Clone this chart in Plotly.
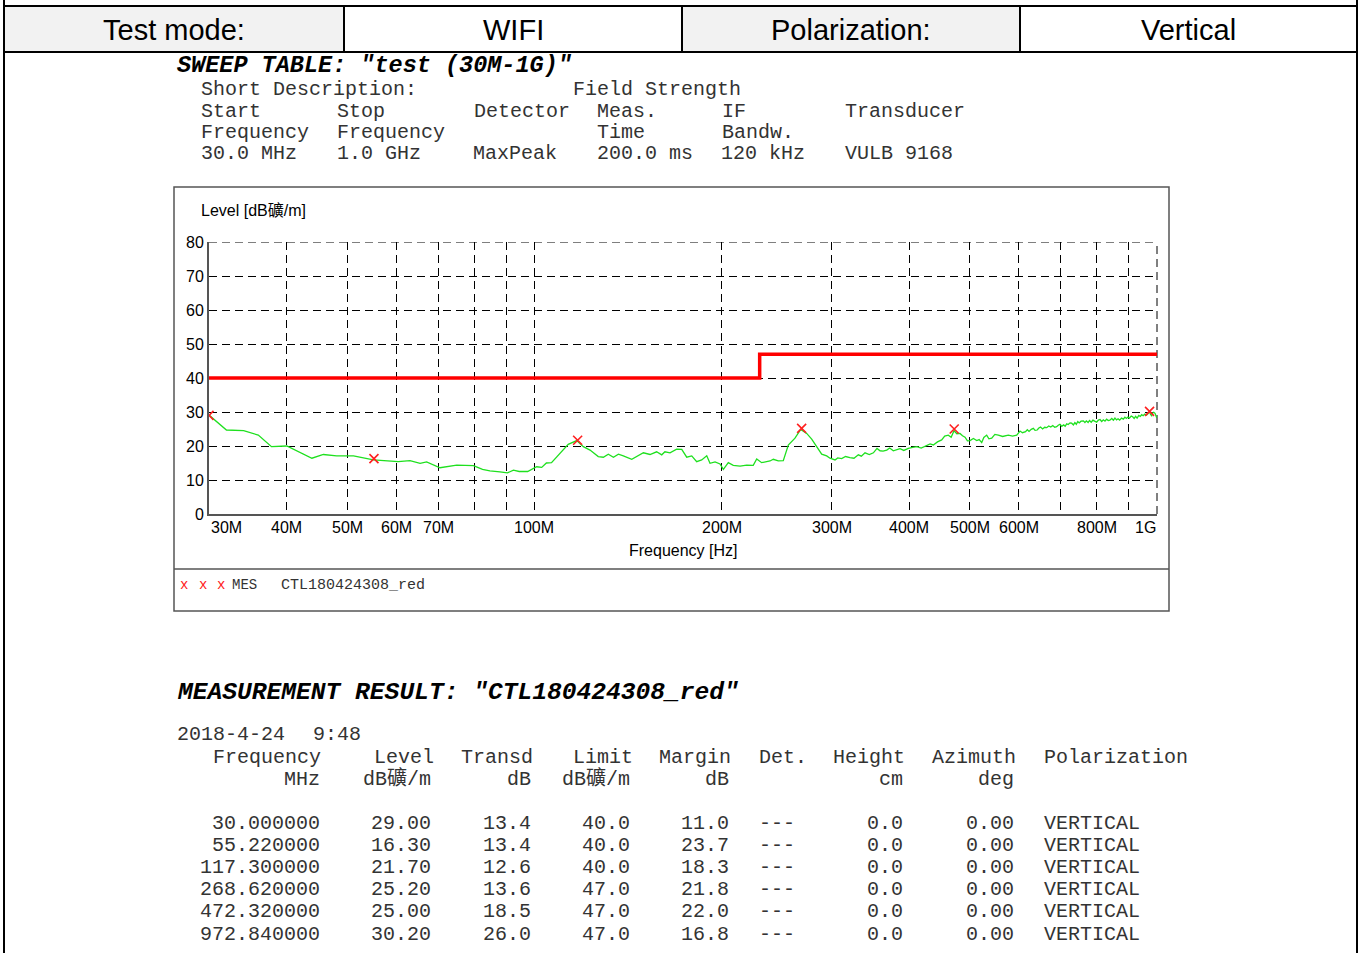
import math
import plotly.graph_objects as go

W, H = 1362, 953


def px(x):
    return x / W


def py(y):
    return 1 - y / H


# ---------------- data ----------------
trace_freq_mhz = [
    30.0, 32.0, 34.1, 36.0, 37.8, 40.0, 43.9, 45.8, 48.1, 51.2, 55.1, 57.9, 60.4, 63.1,
    65.5, 67.1, 70.5, 75.0, 79.8, 82.5, 84.8, 88.0, 90.5, 92.5, 94.5, 97.5, 100.8, 102.7,
    104.5, 106.5, 109.9, 113.3, 116.9, 119.8, 122.8, 126.6, 129.0, 131.4, 133.9, 136.4,
    138.9, 143.3, 149.6, 153.3, 157.1, 160.1, 162.0, 165.1, 169.2, 172.4, 175.6, 178.9,
    182.2, 185.6, 189.1, 191.4, 195.0, 198.6, 201.1, 204.8, 208.6, 213.9, 219.2, 224.6,
    227.5, 231.7, 239.0, 241.9, 246.4, 251.0, 255.7, 262.1, 267.7, 273.7, 278.8, 284.0,
    289.3, 294.7, 298.3, 303.9, 307.0, 311.5, 316.0, 321.2, 326.0, 331.3, 335.0, 339.6,
    345.0, 350.3, 355.0, 359.0, 363.0, 368.0, 372.0, 377.1, 382.0, 386.5, 392.0, 398.6,
    405.0, 411.2, 418.0, 426.6, 432.0, 437.2, 444.0, 450.9, 456.0, 462.1, 467.0, 472.0,
    477.0, 482.5, 487.0, 491.6, 496.0, 500.8, 507.0, 513.4, 518.0, 522.9, 527.0, 532.6,
    537.0, 542.6, 549.0, 556.0, 565.0, 576.9, 586.0, 595.2,
    602.5, 608.0, 615.0, 619.0, 623.0, 628.0, 632.9, 637.0, 642.0, 646.0, 650.0, 655.0,
    660.0, 665.0, 670.0, 675.0, 680.0, 685.0, 690.0, 694.0, 698.4, 703.0, 708.0, 712.0,
    716.0, 720.0, 725.0, 729.3, 734.0, 738.0, 742.0, 746.0, 750.0, 755.0, 761.5, 766.0,
    770.0, 775.0, 779.0, 784.0, 789.0, 794.0, 800.0, 805.0, 810.0, 815.0, 820.0, 825.0,
    830.0, 835.0, 840.0, 846.0, 851.0, 856.0, 861.0, 866.0, 871.0, 877.0, 883.0, 888.0,
    893.0, 898.0, 903.0, 909.0, 914.0, 919.0, 924.0, 929.0, 935.0, 940.0, 945.0, 950.0,
    956.0, 962.0, 967.0, 972.8, 977.0, 980.6, 984.0, 988.0, 992.7, 996.0, 998.9,
]
trace_level = [
    29.1, 24.7, 24.5, 23.2, 19.8, 20.0, 16.4, 17.5, 17.1, 17.1, 15.9, 15.6, 15.4, 15.7,
    14.9, 15.3, 13.6, 14.4, 14.2, 13.1, 12.7, 12.4, 12.1, 12.9, 12.5, 12.5, 13.9, 13.7,
    15.0, 15.1, 17.8, 20.5, 21.6, 19.8, 18.8, 16.9, 16.7, 17.6, 16.7, 17.6,
    17.1, 16.1, 18.0, 17.5, 18.3, 17.4, 18.3, 18.0, 19.1, 19.0, 16.7, 17.1,
    15.4, 15.9, 17.1, 14.9, 15.3, 14.7, 13.1, 15.1, 14.3, 14.1, 14.4, 14.3,
    16.2, 15.1, 15.6, 16.1, 15.6, 15.7, 20.3, 22.3, 24.9, 23.7, 22.0, 19.8,
    17.6, 17.1, 16.4, 15.9, 16.5, 16.3, 16.9, 16.6, 16.4, 17.4, 17.0, 18.0,
    17.5, 18.0, 19.3, 18.6, 18.5, 18.8, 19.4, 18.6, 19.0, 19.2, 18.7, 19.3,
    19.6, 19.8, 19.4, 20.0, 20.6, 20.3, 21.2, 21.8, 22.9, 23.2, 22.6, 24.5,
    23.6, 23.7, 23.0, 22.6, 21.5, 21.6, 22.2, 21.6, 21.9, 21.0, 22.5, 23.2,
    22.1, 22.3, 23.4, 23.2, 22.8, 23.2, 22.9, 23.2,
    24.4, 23.9, 24.2, 24.8, 24.3, 24.9, 25.2, 24.6, 24.7, 25.3, 25.6, 25.0,
    25.5, 25.4, 25.9, 25.6, 26.0, 25.5, 25.7, 26.1, 26.4, 25.8, 26.2, 25.8,
    26.5, 26.3, 26.8, 26.7, 26.2, 26.9, 26.4, 27.2, 26.8, 27.3, 27.4, 26.9,
    27.4, 26.9, 27.5, 27.0, 27.6, 27.3, 27.0, 27.6, 27.8, 27.2, 27.7, 27.3,
    27.9, 27.5, 27.6, 28.1, 27.6, 28.2, 27.7, 28.0, 27.6, 28.2, 27.9, 28.5,
    28.1, 28.5, 28.2, 28.8, 28.6, 28.1, 28.7, 28.2, 29.0, 28.7, 29.2, 28.9,
    29.4, 29.1, 29.6, 30.0, 29.2, 28.9, 29.7, 29.9, 29.6, 29.0, 28.3,
]

mark_freq = [30.0, 55.22, 117.3, 268.62, 472.32, 972.84]
mark_level = [29.0, 16.3, 21.7, 25.2, 25.0, 30.2]

limit_freq = [30, 230, 230, 1000]
limit_level = [40, 40, 47, 47]

x_grid_vals = [40, 50, 60, 70, 80, 90, 100, 200, 300, 400, 500, 600, 700, 800, 900]
x_tick_vals = [30, 40, 50, 60, 70, 100, 200, 300, 400, 500, 600, 800, 1000]
x_tick_text = ["30M", "40M", "50M", "60M", "70M", "100M", "200M", "300M", "400M",
               "500M", "600M", "800M", "1G"]
y_tick_vals = [0, 10, 20, 30, 40, 50, 60, 70, 80]

header_cells = ["Test mode:", "WIFI", "Polarization:", "Vertical"]

res_freq = [30.0, 55.22, 117.3, 268.62, 472.32, 972.84]
res_level = [29.00, 16.30, 21.70, 25.20, 25.00, 30.20]
res_transd = [13.4, 13.4, 12.6, 13.6, 18.5, 26.0]
res_limit = [40.0, 40.0, 40.0, 47.0, 47.0, 47.0]
res_margin = [11.0, 23.7, 18.3, 21.8, 22.0, 16.8]
res_det = ["---"] * 6
res_height = [0.0] * 6
res_azimuth = [0.00] * 6
res_pol = ["VERTICAL"] * 6

# ---------------- figure ----------------
SANS = "Liberation Sans, Arial, Noto Sans CJK SC"
MONO = "Liberation Mono, Courier New, Noto Sans CJK SC"
DASH = "8px,5px"

fig = go.Figure()
fig.add_trace(go.Scatter(x=trace_freq_mhz, y=trace_level, mode="lines",
                         line=dict(color="#1fe01f", width=1.3), hoverinfo="skip"))
fig.add_trace(go.Scatter(x=limit_freq, y=limit_level, mode="lines",
                         line=dict(color="#ff0000", width=3.5), hoverinfo="skip"))
fig.add_trace(go.Scatter(x=mark_freq, y=mark_level, mode="markers",
                         marker=dict(symbol="x-thin", size=9,
                                     line=dict(color="#ff2020", width=1.6)),
                         hoverinfo="skip"))

x0, x1, y0, y1 = 209, 1157, 242, 514

fig.update_layout(
    width=W, height=H, autosize=False, margin=dict(l=0, r=0, t=0, b=0, pad=0),
    paper_bgcolor="white", plot_bgcolor="white", showlegend=False,
    xaxis=dict(type="log", range=[math.log10(30), math.log10(1000)],
               domain=[px(x0), px(x1)], tickvals=x_grid_vals, showticklabels=False,
               ticks="", showgrid=True, gridcolor="#000", gridwidth=1,
               griddash=DASH, showline=True, linecolor="#555", linewidth=2,
               zeroline=False, automargin=False),
    yaxis=dict(range=[0, 80], domain=[py(y1), py(y0)], tickvals=y_tick_vals,
               ticks="", showgrid=True, gridcolor="#000", gridwidth=1,
               griddash=DASH, showline=True, linecolor="#555", linewidth=2,
               zeroline=False, tickfont=dict(family=SANS, size=16, color="#000"),
               ticklabelstandoff=0, automargin=False),
)

shapes = []
annotations = []

# grid lines lying on the plot edges (80 dB and 1 GHz)
shapes.append(dict(type="line", xref="paper", yref="y", x0=px(x0), x1=px(x1), y0=80, y1=80,
                   line=dict(color="#000", width=1, dash=DASH), layer="below"))
shapes.append(dict(type="line", xref="paper", yref="y", x0=px(x1), x1=px(x1), y0=0, y1=80,
                   line=dict(color="#000", width=1, dash=DASH), layer="below"))

# page side lines and header table
shapes.append(dict(type="line", xref="paper", yref="paper", x0=px(4), x1=px(4), y0=py(0), y1=py(953),
                   line=dict(color="#000", width=2)))
shapes.append(dict(type="line", xref="paper", yref="paper", x0=px(1357), x1=px(1357), y0=py(0), y1=py(953),
                   line=dict(color="#000", width=2)))
cell_edges = [4, 344, 682, 1020, 1357]
for i, txt in enumerate(header_cells):
    fill = "#f2f2f2" if i % 2 == 0 else "#ffffff"
    shapes.append(dict(type="rect", xref="paper", yref="paper",
                       x0=px(cell_edges[i]), x1=px(cell_edges[i + 1]), y0=py(52), y1=py(6),
                       fillcolor=fill, line=dict(color="#000", width=2), layer="below"))
    annotations.append(dict(xref="paper", yref="paper", x=px((cell_edges[i] + cell_edges[i + 1]) / 2),
                            y=py(30), text=txt, showarrow=False, xanchor="center", yanchor="middle",
                            font=dict(family=SANS, size=29, color="#000")))


def mono(x, y, text, size=20, anchor="left", color="#333"):
    annotations.append(dict(xref="paper", yref="paper", x=px(x), y=py(y), text=text,
                            showarrow=False, xanchor=anchor, yanchor="middle",
                            font=dict(family=MONO, size=size, color=color)))


# sweep table text
mono(175, 65.5, '<b><i>SWEEP TABLE: "test (30M-1G)"</i></b>', size=23.5, color="#000")
mono(199, 89.5, "Short Description:")
mono(571, 89.5, "Field Strength")
for xx, t in zip([199, 335, 472, 595, 720, 843],
                 ["Start", "Stop", "Detector", "Meas.", "IF", "Transducer"]):
    mono(xx, 111, t)
for xx, t in zip([199, 335, 595, 720], ["Frequency", "Frequency", "Time", "Bandw."]):
    mono(xx, 132, t)
for xx, t in zip([199, 335, 471, 595, 719, 843],
                 ["30.0 MHz", "1.0 GHz", "MaxPeak", "200.0 ms", "120 kHz", "VULB 9168"]):
    mono(xx, 153.5, t)

# chart frame
shapes.append(dict(type="rect", xref="paper", yref="paper", x0=px(174), x1=px(1169), y0=py(611), y1=py(187),
                   line=dict(color="#555", width=1.5), layer="below"))
shapes.append(dict(type="line", xref="paper", yref="paper", x0=px(174), x1=px(1169), y0=py(569), y1=py(569),
                   line=dict(color="#555", width=1.5)))

annotations.append(dict(xref="paper", yref="paper", x=px(199), y=py(210), text="Level [dB礦/m]",
                        showarrow=False, xanchor="left", yanchor="middle",
                        font=dict(family=SANS, size=16, color="#000")))
annotations.append(dict(xref="paper", yref="paper", x=px(683), y=py(550), text="Frequency [Hz]",
                        showarrow=False, xanchor="center", yanchor="middle",
                        font=dict(family=SANS, size=16, color="#000")))
for v, t in zip(x_tick_vals, x_tick_text):
    shift = 17 if v == 30 else (-12 if v == 1000 else 0)
    annotations.append(dict(xref="x", yref="paper", x=math.log10(v), y=py(527), text=t,
                            showarrow=False, xanchor="center", yanchor="middle", xshift=shift,
                            font=dict(family=SANS, size=16, color="#000")))

# legend row
for xx in [184, 203, 221]:
    annotations.append(dict(xref="paper", yref="paper", x=px(xx), y=py(585), text="x",
                            showarrow=False, xanchor="center", yanchor="middle",
                            font=dict(family=MONO, size=14, color="#ff2020")))
annotations.append(dict(xref="paper", yref="paper", x=px(230), y=py(585), text="MES",
                        showarrow=False, xanchor="left", yanchor="middle",
                        font=dict(family=MONO, size=14, color="#333")))
annotations.append(dict(xref="paper", yref="paper", x=px(279), y=py(585), text="CTL180424308_red",
                        showarrow=False, xanchor="left", yanchor="middle",
                        font=dict(family=MONO, size=15, color="#333")))

# measurement result
mono(175, 692, '<b><i>MEASUREMENT RESULT: "CTL180424308_red"</i></b>', size=24.6, color="#000")
mono(175, 734, "2018-4-24")
mono(311, 734, "9:48")
for xx, t in zip([211, 372, 459, 571, 657, 757, 831, 930, 1042],
                 ["Frequency", "Level", "Transd", "Limit", "Margin", "Det.", "Height", "Azimuth", "Polarization"]):
    mono(xx, 757, t)
for xx, t in zip([322, 433, 533, 632, 731, 905, 1016],
                 ["MHz", "dB礦/m", "dB", "dB礦/m", "dB", "cm", "deg"]):
    mono(xx, 779, t, anchor="right")

row_y = [823, 845, 867, 889, 911, 934]
for i, yy in enumerate(row_y):
    mono(322, yy, f"{res_freq[i]:.6f}", anchor="right")
    mono(433, yy, f"{res_level[i]:.2f}", anchor="right")
    mono(533, yy, f"{res_transd[i]:.1f}", anchor="right")
    mono(632, yy, f"{res_limit[i]:.1f}", anchor="right")
    mono(731, yy, f"{res_margin[i]:.1f}", anchor="right")
    mono(757, yy, res_det[i])
    mono(905, yy, f"{res_height[i]:.1f}", anchor="right")
    mono(1016, yy, f"{res_azimuth[i]:.2f}", anchor="right")
    mono(1042, yy, res_pol[i])

fig.update_layout(shapes=shapes, annotations=annotations)

post = (
    "document.documentElement.style.margin='0';"
    "document.body.style.margin='0';"
    "document.documentElement.style.overflow='hidden';"
    "document.body.style.overflow='hidden';"
    "var gds=document.getElementsByClassName('plotly-graph-div');"
    "for(var i=0;i<gds.length;i++){gds[i].style.position='fixed';gds[i].style.top='0px';gds[i].style.left='0px';}"
)
fig.write_html("out.html", config={"displayModeBar": False}, post_script=post)
